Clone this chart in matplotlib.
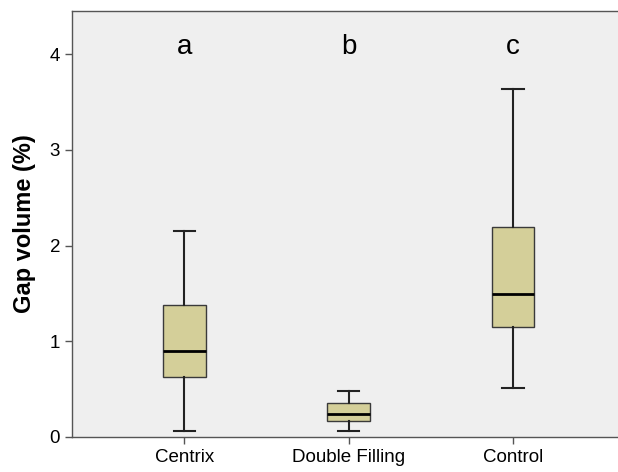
import matplotlib
matplotlib.use("Agg")
import matplotlib.pyplot as plt

groups = ["Centrix", "Double Filling", "Control"]
whisker_low = [0.06, 0.063, 0.51]
q1 = [0.63, 0.17, 1.15]
medians = [0.90, 0.245, 1.49]
q3 = [1.38, 0.35, 2.19]
whisker_high = [2.15, 0.485, 3.64]
letters = ["a", "b", "c"]

stats = []
for i in range(len(groups)):
    stats.append({
        "label": groups[i],
        "whislo": whisker_low[i],
        "q1": q1[i],
        "med": medians[i],
        "q3": q3[i],
        "whishi": whisker_high[i],
    })

plt.rcParams["font.family"] = ["Liberation Sans", "DejaVu Sans"]

fig = plt.figure(figsize=(6.18, 4.72), dpi=100)
ax = fig.add_axes([0.1165, 0.0742, 0.8835, 0.9025])
ax.set_facecolor("#efefef")

ax.bxp(stats, positions=[1, 2, 3], widths=0.26, patch_artist=True,
       showfliers=False,
       boxprops=dict(facecolor="#d4cf99", edgecolor="#3a3a3a", linewidth=1.0),
       medianprops=dict(color="black", linewidth=2),
       whiskerprops=dict(color="#222222", linewidth=1.5),
       capprops=dict(color="#222222", linewidth=1.5),
       capwidths=0.13)

for i, letter in enumerate(letters):
    ax.text(i + 1, 4.07, letter, ha="center", va="center", fontsize=20)

ax.set_xlim(0.315, 3.64)
ax.set_ylim(0, 4.45)
ax.set_yticks([0, 1, 2, 3, 4])
ax.tick_params(axis="both", direction="out", length=5, width=1, colors="#555555",
               labelcolor="black", labelsize=13.5)
ax.set_ylabel("Gap volume (%)", fontsize=17, fontweight="bold", labelpad=10)

for side in ["left", "bottom", "top"]:
    ax.spines[side].set_color("#555555")
    ax.spines[side].set_linewidth(1)
ax.spines["right"].set_visible(False)

fig.savefig("out.png", dpi=100)
